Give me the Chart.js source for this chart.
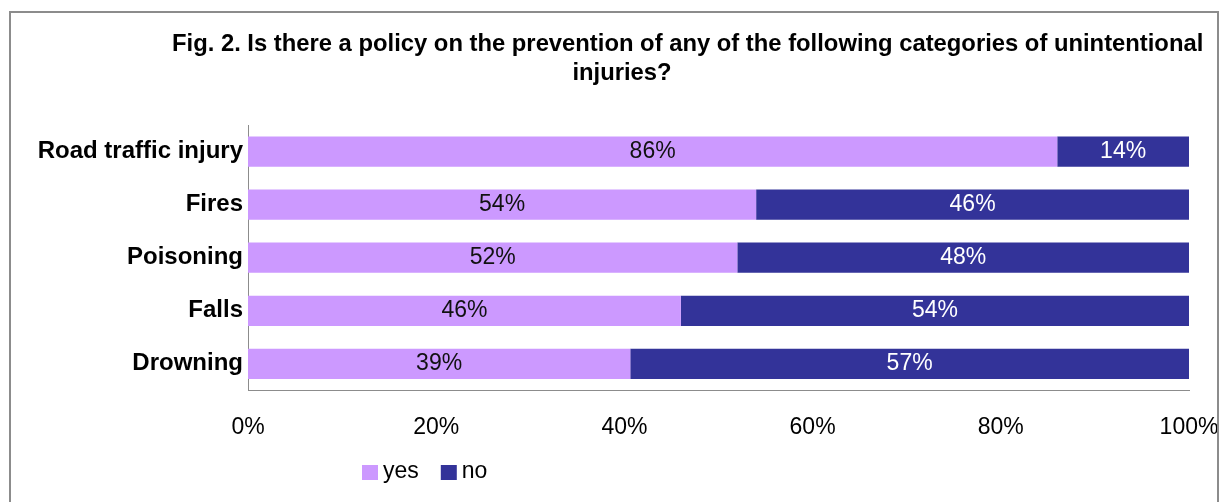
<!DOCTYPE html>
<html>
<head>
<meta charset="utf-8">
<script src="https://cdn.jsdelivr.net/npm/chart.js@4/dist/chart.umd.min.js"></script>
<style>
  html, body { margin: 0; padding: 0; background: #fff; }
  #wrap { width: 1223px; height: 502px; }
</style>
</head>
<body>
<div id="wrap"><canvas id="policyChart" width="1223" height="502"></canvas></div>
<script>
const categories = ["Road traffic injury", "Fires", "Poisoning", "Falls", "Drowning"];
const yesValues = [86, 54, 52, 46, 39];
const noValues = [14, 46, 48, 54, 57];
const tickValues = [0, 20, 40, 60, 80, 100];
const titleLines = [
    "Fig. 2. Is there a policy on the prevention of any of the following categories of unintentional",
    "injuries?",
];

const FONT = "'Liberation Sans', Arial, sans-serif";
const YES_COLOR = "#cc99ff";
const NO_COLOR = "#333399";

// 100% stacked: each row is scaled to its own total
const totals = yesValues.map((v, i) => v + noValues[i]);
const yesShare = yesValues.map((v, i) => (v / totals[i]) * 100);
const noShare = noValues.map((v, i) => (v / totals[i]) * 100);

const frame = {
    id: "frame",
    beforeDraw(chart) {
        const { ctx, width, height } = chart;
        ctx.save();
        ctx.fillStyle = "#fff";
        ctx.fillRect(0, 0, width, height);
        ctx.restore();
    },
    afterDraw(chart) {
        const { ctx } = chart;
        ctx.save();
        // outer border
        ctx.strokeStyle = "#8c8c8c";
        ctx.lineWidth = 2;
        ctx.strokeRect(10, 12, 1208, 520);

        // title
        ctx.fillStyle = "#000";
        ctx.font = "bold 23.8px " + FONT;
        ctx.textBaseline = "middle";
        ctx.textAlign = "left";
        ctx.fillText(titleLines[0], 172, 44);
        ctx.textAlign = "center";
        ctx.fillText(titleLines[1], 622, 73);

        // legend
        ctx.font = "23px " + FONT;
        ctx.textAlign = "left";
        let x = 362;
        chart.data.datasets.forEach((ds) => {
            ctx.fillStyle = ds.backgroundColor;
            ctx.fillRect(x, 465, 16, 15);
            ctx.fillStyle = "#000";
            ctx.fillText(ds.label, x + 21, 472);
            x += 21 + ctx.measureText(ds.label).width + 22;
        });
        ctx.restore();
    },
    afterDatasetsDraw(chart) {
        const { ctx } = chart;
        ctx.save();
        ctx.font = "23px " + FONT;
        ctx.textAlign = "center";
        ctx.textBaseline = "middle";
        chart.data.datasets.forEach((ds, di) => {
            const meta = chart.getDatasetMeta(di);
            meta.data.forEach((bar, i) => {
                const cx = (bar.x + bar.base) / 2;
                ctx.fillStyle = ds.labelColor;
                ctx.fillText(ds.raw[i] + "%", cx, bar.y);
            });
        });
        ctx.restore();
    },
};

new Chart(document.getElementById("policyChart"), {
    type: "bar",
    data: {
        labels: categories,
        datasets: [
            {
                label: "yes",
                data: yesShare,
                raw: yesValues,
                backgroundColor: YES_COLOR,
                labelColor: "#111",
                categoryPercentage: 1,
                barPercentage: 0.57,
            },
            {
                label: "no",
                data: noShare,
                raw: noValues,
                backgroundColor: NO_COLOR,
                labelColor: "#fff",
                categoryPercentage: 1,
                barPercentage: 0.57,
            },
        ],
    },
    options: {
        indexAxis: "y",
        responsive: false,
        animation: false,
        layout: { padding: { top: 125, bottom: 38, left: 0, right: 34 } },
        plugins: {
            legend: { display: false },
            title: { display: false },
            tooltip: { enabled: false },
        },
        scales: {
            x: {
                stacked: true,
                min: 0,
                max: 100,
                afterBuildTicks: (scale) => {
                    scale.ticks = tickValues.map((v) => ({ value: v }));
                },
                // let the outer tick labels hang past the plot edges
                afterFit: (scale) => {
                    scale.paddingLeft = 0;
                    scale.paddingRight = 0;
                },
                ticks: {
                    callback: (v) => v + "%",
                    color: "#000",
                    font: { family: FONT, size: 23 },
                    padding: 23,
                    maxRotation: 0,
                },
                grid: { display: false, drawTicks: false },
                border: { display: true, color: "#8c8c8c", width: 1 },
            },
            y: {
                stacked: true,
                afterFit: (scale) => {
                    scale.width = 248;
                },
                ticks: {
                    color: "#000",
                    font: { family: FONT, size: 24, weight: "bold" },
                    padding: 5,
                },
                grid: { display: false, drawTicks: false },
                border: { display: true, color: "#8c8c8c", width: 1 },
            },
        },
    },
    plugins: [frame],
});
</script>
</body>
</html>
